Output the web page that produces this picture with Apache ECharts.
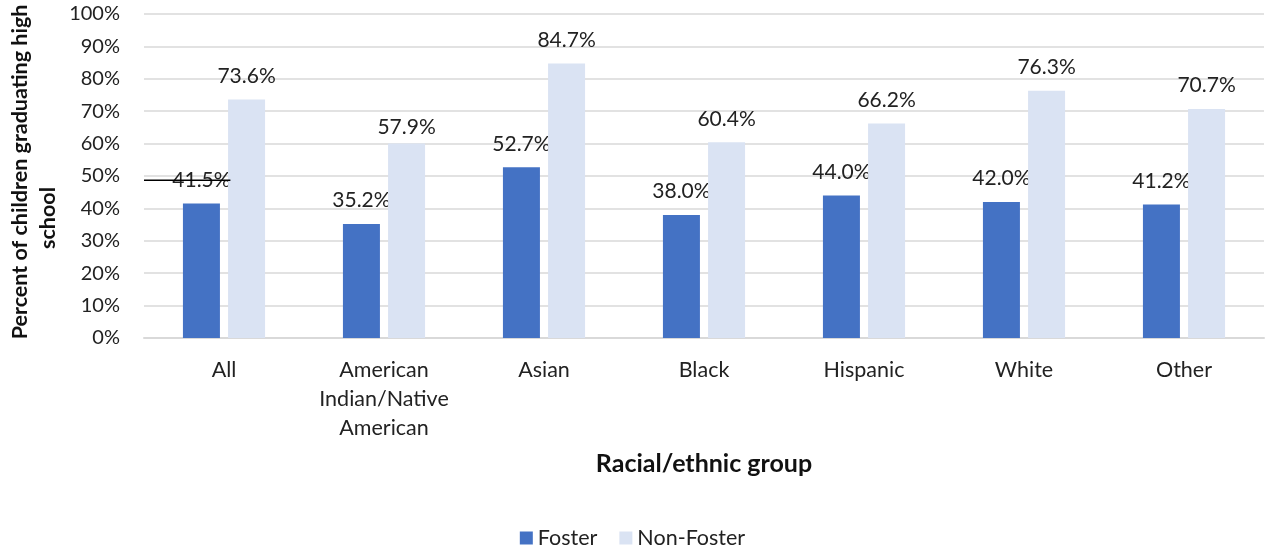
<!DOCTYPE html>
<html>
<head>
<meta charset="utf-8">
<script src="https://cdn.jsdelivr.net/npm/echarts@6/dist/echarts.min.js"></script>
<style>
html,body{margin:0;padding:0;background:#fff;}
#c{width:1265px;height:548px;}
</style>
</head>
<body>
<div id="c"></div>
<script>
const categories = ['All', 'American\nIndian/Native\nAmerican', 'Asian', 'Black', 'Hispanic', 'White', 'Other'];
const fosterBars = [41.5, 35.2, 52.7, 38.0, 44.0, 42.0, 41.2];
const fosterLabels = ['41.5%', '35.2%', '52.7%', '38.0%', '44.0%', '42.0%', '41.2%'];
const fosterLabelValues = [41.5, 35.2, 52.7, 38.0, 44.0, 42.0, 41.2];
const nonFosterBars = [73.6, 60.0, 84.7, 60.4, 66.2, 76.3, 70.7];
const nonFosterLabels = ['73.6%', '57.9%', '84.7%', '60.4%', '66.2%', '76.3%', '70.7%'];
const nonFosterLabelValues = [73.6, 57.9, 84.7, 60.4, 66.2, 76.3, 70.7];
const yTicks = [0, 10, 20, 30, 40, 50, 60, 70, 80, 90, 100];
const strayLine = [[0, 48.7], [0.54, 48.7]];

const FONT = 'Lato, "Open Sans", sans-serif';
const chart = echarts.init(document.getElementById('c'), null, {renderer: 'canvas'});

function buildData(bars, labels, labelVals, ppu) {
  return bars.map((v, i) => ({
    value: v,
    label: {formatter: labels[i], offset: [0, (v - labelVals[i]) * ppu]}
  }));
}

function makeOption(ppu) {
  return {
    animation: false,
    backgroundColor: '#fff',
    grid: {left: 144, right: 1, top: 14, bottom: 210, containLabel: false},
    legend: {
      data: ['Foster', 'Non-Foster'],
      top: 522,
      left: 'center',
      itemWidth: 13, itemHeight: 13, itemGap: 22,
      icon: 'rect',
      textStyle: {fontFamily: FONT, fontSize: 21.5, color: '#222'}
    },
    xAxis: [{
      type: 'category',
      data: categories,
      axisLine: {lineStyle: {color: '#d9d9d9', width: 2}},
      axisTick: {show: false},
      axisLabel: {fontFamily: FONT, fontSize: 21.5, color: '#222', margin: 18, lineHeight: 29, interval: 0},
      name: 'Racial/ethnic group',
      nameLocation: 'middle',
      nameGap: 113,
      nameTextStyle: {fontFamily: FONT, fontSize: 25, fontWeight: 'bold', color: '#111', verticalAlign: 'top'}
    }, {
      type: 'value', min: 0, max: categories.length, show: false
    }],
    yAxis: {
      type: 'value', min: yTicks[0], max: yTicks[yTicks.length - 1], interval: 10,
      axisLine: {show: false}, axisTick: {show: false},
      axisLabel: {fontFamily: FONT, fontSize: 20, color: '#222', margin: 24, formatter: '{value}%'},
      splitLine: {lineStyle: {color: '#d9d9d9', width: 1.5}}
    },
    graphic: [
      {type: 'text', x: 20, y: 172, rotation: Math.PI / 2,
        style: {text: 'Percent of children graduating high', font: 'bold 21.5px ' + FONT, fill: '#111', textAlign: 'center', textVerticalAlign: 'middle'}},
      {type: 'text', x: 48, y: 218, rotation: Math.PI / 2,
        style: {text: 'school', font: 'bold 21.5px ' + FONT, fill: '#111', textAlign: 'center', textVerticalAlign: 'middle'}}
    ],
    series: [{
      name: 'Foster', type: 'bar', z: 2,
      barWidth: 37, barGap: '22%',
      itemStyle: {color: '#4472c4'},
      label: {show: true, position: 'top', distance: 13, fontFamily: FONT, fontSize: 21, color: '#222'},
      data: buildData(fosterBars, fosterLabels, fosterLabelValues, ppu)
    }, {
      name: 'Non-Foster', type: 'bar', z: 3,
      barWidth: 37,
      itemStyle: {color: '#dae3f3'},
      label: {show: true, position: 'top', distance: 13, fontFamily: FONT, fontSize: 21, color: '#222'},
      data: buildData(nonFosterBars, nonFosterLabels, nonFosterLabelValues, ppu)
    }, {
      name: 'stray', type: 'line', xAxisIndex: 1, yAxisIndex: 0, z: 5,
      symbol: 'none', silent: true,
      lineStyle: {color: '#000', width: 1.5},
      data: strayLine
    }]
  };
}

chart.setOption(makeOption(0));
const p0 = chart.convertToPixel({yAxisIndex: 0}, 0);
const p1 = chart.convertToPixel({yAxisIndex: 0}, 1);
chart.setOption(makeOption(p0 - p1));
</script>
</body>
</html>
